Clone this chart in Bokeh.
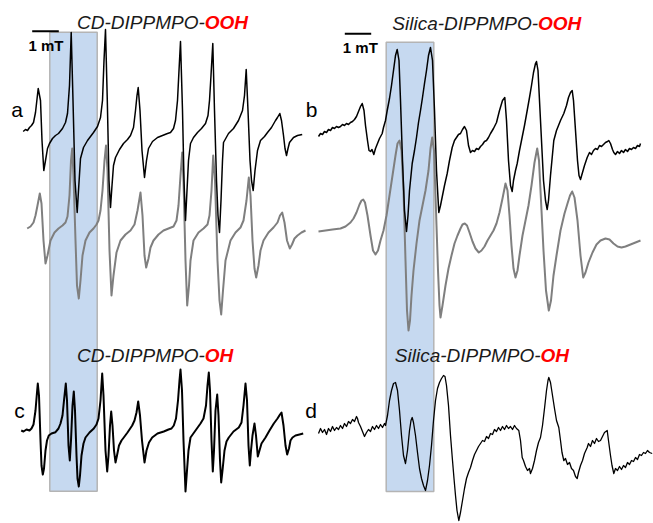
from bokeh.plotting import figure
from bokeh.models import Range1d
from bokeh.core.properties import value
from bokeh.embed import file_html
from bokeh.resources import INLINE

# ---------------- data (field axis left->right, signal axis downward) -------------
# a) CD-DIPPMPO-OOH experimental (black) and simulated (grey)
a_exp = [(22.7,131),(25,129),(27,130),(29,127),(31,125),(33,122),(35,112),(37.7,88),(40,100),(41.5,140),(43.3,170),
         (45,160),(47,148),(49,143),(52,138),(55,135),(58,133),(62,128),(65,122),(67,113),(69,85),(70.7,32),(72.5,100),
         (74.5,180),(76.7,212),(78,190),(80,158),(83,147),(87,140),(90,136),(93,132),(97,126),(100,117),(102,100),
         (103.5,60),(105,29),(106.8,100),(108.5,180),(110,207),(111.5,185),(113,165),(115,157),(119,149),(123,143),
         (127,139),(130,135),(133,127),(135,110),(136.5,95),(137.7,87),(139.5,110),(141.5,150),(144,177),(146,160),
         (148,148),(152,141),(157,137),(162,135),(167,133),(170,132),(173,128),(175,120),(177,100),(178.5,70),(180,41),
         (182,110),(183.5,180),(185,220),(186.5,190),(188,160),(190,143),(193,137),(197,132),(201,128),(205,123),
         (207.5,115),(209,100),(210.5,75),(212.3,43),(214,110),(216,180),(217.5,215),(219,232),(220.5,200),(222,160),
         (223,142),(228,133),(233,128),(238,120),(242,110),(244,95),(245.7,69),(247.5,110),(249.5,160),(251,180),
         (252.7,190),(254.5,170),(257,150),(260,140),(264,136),(267,132),(271,127),(275,120),(277,117),(279.3,113),
         (281,120),(283,135),(284.5,148),(286,155),(287.5,148),(289,142),(293,137),(297,135),(301.7,134)]
a_sim = [(26.7,228),(30,226),(33,222),(35,215),(37,205),(39.3,193),(41,203),(43,240),(45,263),(47,255),(50,240),
         (54,232),(58,228),(62,225),(65,222),(67,216),(69,195),(70.5,160),(71.7,148),(73,175),(75,240),(76.5,285),
         (78.3,298),(80,280),(82,255),(85,240),(89,232),(93,228),(96,224),(98,220),(100,210),(102,190),(104,160),
         (105.5,145),(107,170),(109,250),(111,295),(113,275),(116,252),(120,240),(125,234),(130,230),(134,224),
         (137,210),(140,192),(142,215),(144,255),(145.7,267),(148,258),(150,247),(153,240),(158,234),(163,230),
         (168,228),(173,226),(176,220),(178,205),(180,175),(181.7,152),(183,180),(185,260),(186.7,305),(188.5,285),
         (190,260),(193,240),(198,232),(203,228),(207,224),(209,215),(211,190),(212.7,155),(214.5,180),(217,260),
         (219,300),(220.7,314),(222.5,290),(225,260),(230,240),(235,232),(240,227),(243,220),(246,200),(248.3,177),
         (250,195),(252,240),(254,268),(255.7,277),(258,265),(260,250),(263,240),(268,232),(273,227),(277,222),
         (279.5,215),(281.7,212),(284,222),(286.5,240),(289.3,248),(291.5,244),(294,238),(297,235),(301,232),(305,230)]

# b) Silica-DIPPMPO-OOH experimental (black) and simulated (grey)
b_exp = [(318,136),(320,133),(322,134),(324,131),(326,132),(328,129),(330,130),(332,127),(334,128),(336,126),
         (338,127),(340,126),(342,124),(344,125),(346,123),(348,124),(350,122),(352,121),(354,119),(356,116),(358,111),
         (360,106),(361.7,103),(363.5,110),(365,125),(367,140),(368.5,150),(370,151),(371.5,149),(373.3,154),(375,148),
         (377,143),(379,138),(381.7,133),(383,127),(385,120),(386.7,110),(389,98),(391,85),(393,70),(395,55),(396.7,49),
         (398.5,60),(400,100),(402,160),(404,210),(406,231),(407.5,215),(409,190),(411.7,163),(414,150),(416,137),
         (418,122),(420,110),(422,97),(424,83),(426,70),(428,55),(430,47),(432,60),(434,110),(436,170),(438.3,212),
         (440,205),(442,195),(444,185),(446.7,173),(449,160),(451.7,147),(454,140),(456,137),(458,134),(460,133),
         (462,129),(464,126),(466,130),(468,145),(470,152),(472,150),(474,151),(476,148),(478,149),(480,146),(482,144),
         (484,141),(486,140),(488,137),(490,133),(493,128),(496,122),(499,110),(502,100),(504.3,97),(506,120),
         (508,160),(510,185),(511.7,191),(513,180),(515,170),(516.7,163),(519,150),(521,140),(524,125),(526.7,110),
         (529,97),(531,85),(533,72),(535,63),(536,61),(537.5,70),(539,100),(541,140),(543,180),(545,200),(546.7,209),
         (548,200),(550,175),(553.3,140),(556,130),(558,125),(560,120),(563.3,113),(566,105),(568,97),(570,92),
         (571.7,90),(573,100),(575,130),(577,160),(578.5,175),(580,179),(582,172),(584,165),(586.7,157),(589,152),
         (591,154),(593,150),(595,148),(597,149),(599,145),(601,146),(603,144),(605,142),(607,141),(608.3,140),
         (610,143),(612,149),(613.3,152),(615,154),(617,151),(619,153),(621,150),(623,152),(625,149),(627,151),
         (629,148),(631,149),(633,147),(635,148),(637,145),(639,146),(640,143)]
b_sim = [(318,231),(325,230),(332,229),(340,228),(345,226),(350,222),(353,218),(356,212),(359,204),(361,200),
         (362.7,199),(364.5,202),(367,215),(370,235),(372.5,250),(375,254),(377.5,250),(380,240),(383,230),(386,215),
         (389,195),(392,175),(395,155),(397,143),(399,140),(401,150),(403,190),(405,260),(406.5,310),(408,330),
         (409.5,320),(411,295),(413,270),(416,243),(419,220),(422,205),(425,190),(428,170),(430,148),(431.7,137),
         (433.5,150),(435.5,210),(437.5,270),(439,305),(440,317),(442,305),(445,285),(448,268),(451,255),(454,243),
         (457,235),(460,228),(462,224),(464.3,223),(466.5,225),(469,232),(472,241),(475,248),(478.3,252),(481,250),
         (484,246),(487,240),(490,235),(493,230),(496,223),(499,212),(502,198),(505,183),(507,190),(509,215),(511,245),
         (513,268),(515,277),(517,270),(519,255),(522,235),(525,220),(528,205),(531,185),(534,162),(536.7,148),
         (538.5,160),(540.5,200),(543,250),(545.5,290),(548.3,310),(550.5,300),(553,275),(556,255),(560,230),(564,213),
         (567,203),(569.5,195),(571.7,191),(574,197),(577,220),(580,255),(582.7,277),(585,272),(588,262),(592,252),
         (596,244),(600,240),(605,238),(609,239),(613,243),(617,246),(621,247),(625,246),(630,244),(635,242),(640,240)]

# c) CD-DIPPMPO-OH experimental (black)
c_exp = [(20.7,430),(23,431),(26,429),(29,430),(31,428),(33,424),(35,410),(36.5,392),(37.3,383),(38.5,395),(40,440),
         (41,465),(42.3,474),(43.5,468),(45,450),(46.5,440),(48.3,435),(51,433),(55,431.7),(58,428),(60,423),(62,415),
         (63.5,400),(65.3,383),(66.5,400),(68,445),(69.3,460),(70.5,440),(72,405),(73.3,391),(74.5,410),(76,455),
         (77,478),(78.3,486),(79.5,475),(81,455),(83,443),(85,437),(89,432),(93.3,428),(96,424),(98,418),(100,400),
         (101.7,373),(103,395),(105,450),(106.7,471),(108,455),(109.5,425),(110.7,411),(112,425),(113.5,450),(115,462),
         (116.5,455),(118.5,445),(121,440),(123.3,437),(127,432),(131.7,425),(134,420),(136,412),(137.7,401),
         (139.5,415),(141.5,440),(144,462),(146,450),(148.5,442),(151.7,437),(157,433),(163.3,431),(168,429),(171,428),
         (173.3,425),(175.5,418),(177.5,400),(179,380),(180,369),(181.5,390),(183,440),(185,491),(186.5,470),(188,450),
         (190,437),(195,430),(200,423),(203,418),(205.5,405),(207,385),(208.3,372),(209.5,390),(211,440),(212.3,471),
         (213.5,450),(215,410),(216.7,394),(218,415),(219.5,460),(220.7,482),(222,470),(224,450),(226,441),(228.3,437),
         (233,431),(238.3,427),(241,422),(243,405),(245,383),(246.5,400),(248,445),(249.3,465),(250.5,450),(252,435),
         (254,423),(255.5,435),(257.3,456),(259,450),(261,443),(265,437),(269,430),(273.3,423),(277,418),(279.5,414),
         (281,412),(283,425),(285,445),(286.7,454),(288.5,448),(290,440),(292,437),(295,435),(299,434),(302.7,433)]

# d) Silica-DIPPMPO-OH experimental (black)
d_exp = [(318,433),(320,428),(322,432),(324,429),(326,434),(328,428),(330,431),(332,426),(334,430),(336,427),
         (338,429),(340,425),(342,428),(344,423),(346,426),(348,421),(350,423),(352,419),(354,421),(356,416),(357,418),
         (358,422),(360,426),(362,431),(364,436),(366,432),(368,429),(370,431),(372,426),(374,429),(376,425),(378,428),
         (380,424),(382,427),(384,423),(385,425),(387,415),(389,400),(391,390),(393,383),(395,382),(397,390),(399,410),
         (401,435),(403,455),(405,463),(407,450),(409,430),(410.5,420),(411.7,417),(413,422),(415,435),(417,452),
         (419,468),(421,478),(423,485),(425,490),(427,480),(429,465),(431,445),(433,420),(435,400),(437,388),(439,382),
         (441,378),(443,375),(444.5,376),(446,385),(448,405),(450,435),(452,460),(453.5,478),(455,495),(456.5,510),
         (458.3,520),(460,512),(462,500),(464,488),(466,478),(468,472),(470,467),(472,460),(474,454),(476,450),
         (478,446),(480,443),(482,440),(484,441),(486,436),(488,438),(490,433),(492,434),(494,429),(496,431),(498,427),
         (500,430),(502,426),(504,429),(506,425),(508,428),(510,426),(512,429),(514,425),(516,428),(518.3,430),
         (520,440),(521.7,457),(523,460),(525,466),(527,470),(529,468),(530,473),(532,468),(534,460),(536,450),
         (538,442),(540,437),(542,425),(544,408),(546,390),(547.5,380),(548.3,377),(550,382),(552,395),(554,408),
         (556,420),(558.3,427),(560,440),(561.5,452),(563.3,460),(565,458),(567,464),(569,462),(571,468),(573,470),
         (575,476),(576.7,478),(578,472),(580,465),(582,460),(584,453),(586.7,447),(588,443),(590,446),(592,440),
         (594,443),(596,438),(598,441),(600,440),(602,436),(604,432),(606.7,430),(608,440),(610,455),(611.5,465),
         (613.3,473),(615,468),(617,470),(619,466),(621,469),(623,465),(625,467),(627,462),(629,464),(631,460),
         (633,461),(635,457),(637,459),(639,454),(641,455),(643,452),(645,453),(647,450),(649,452),(651.7,453)]

# highlighted field windows (left, right, top, bottom)
band_left = [49.3, 385.7]
band_right = [96.7, 433.3]
band_top = [31.7, 41.7]
band_bottom = [490.7, 491.0]

# 1 mT scale bars
bar_x0 = [31.7, 344.3]
bar_x1 = [58.3, 370.7]
bar_y = [30.7, 33.3]
bar_label_x = [45.5, 359.8]
bar_label_y = [44.5, 46.5]
bar_labels = ["1 mT", "1 mT"]

# panel letters
letters = ["a", "b", "c", "d"]
letter_x = [16.7, 311.0, 19.0, 310.5]
letter_y = [108.5, 109.0, 410.0, 410.0]

# titles: prefix (black italic) + radical (red bold italic)
title_prefix = ["CD-DIPPMPO-", "Silica-DIPPMPO-", "CD-DIPPMPO-", "Silica-DIPPMPO-"]
title_radical = ["OOH", "OOH", "OH", "OH"]
title_split_x = [204.3, 537.5, 204.3, 540.0]
title_y = [22.3, 22.7, 355.0, 355.0]

# ---------------- figure ----------------
p = figure(width=653, height=523, x_range=Range1d(0, 653), y_range=Range1d(523, 0),
           output_backend="svg", toolbar_location=None, x_axis_type=None, y_axis_type=None,
           min_border=0, background_fill_color="white", border_fill_color="white")
p.grid.visible = False
p.outline_line_color = None

p.quad(left=band_left, right=band_right, top=band_top, bottom=band_bottom,
       fill_color="#c6d9f0", line_color="#b4b4b4", line_width=1.5)

def xy(pairs):
    return [q[0] for q in pairs], [q[1] for q in pairs]

for trace in (a_sim, b_sim):
    xs, ys = xy(trace)
    p.line(xs, ys, line_color="#7f7f7f", line_width=2, line_join="round")

for trace, w in ((a_exp, 1.5), (b_exp, 1.5), (c_exp, 2.0), (d_exp, 1.3)):
    xs, ys = xy(trace)
    p.line(xs, ys, line_color="black", line_width=w, line_join="round")

p.segment(x0=bar_x0, x1=bar_x1, y0=bar_y, y1=bar_y, line_color="black", line_width=2)
p.text(x=bar_label_x, y=bar_label_y, text=bar_labels, text_align="center", text_baseline="alphabetic",
       text_font=value("Liberation Sans"), text_font_style="bold", text_font_size="15px", text_color="black")

p.text(x=letter_x, y=letter_y, text=letters, text_align="center", text_baseline="alphabetic",
       text_font=value("Liberation Sans"), text_font_size="21px", text_color="black")

p.text(x=title_split_x, y=title_y, text=title_prefix, text_align="right", text_baseline="alphabetic",
       text_font=value("Liberation Sans"), text_font_style="italic", text_font_size="19px", text_color="#1a1a1a")
p.text(x=title_split_x, y=title_y, text=title_radical, text_align="left", text_baseline="alphabetic",
       text_font=value("Liberation Sans"), text_font_style="bold italic", text_font_size="19px", text_color="#ff0000")

open("out.html", "w").write(file_html(p, INLINE))
